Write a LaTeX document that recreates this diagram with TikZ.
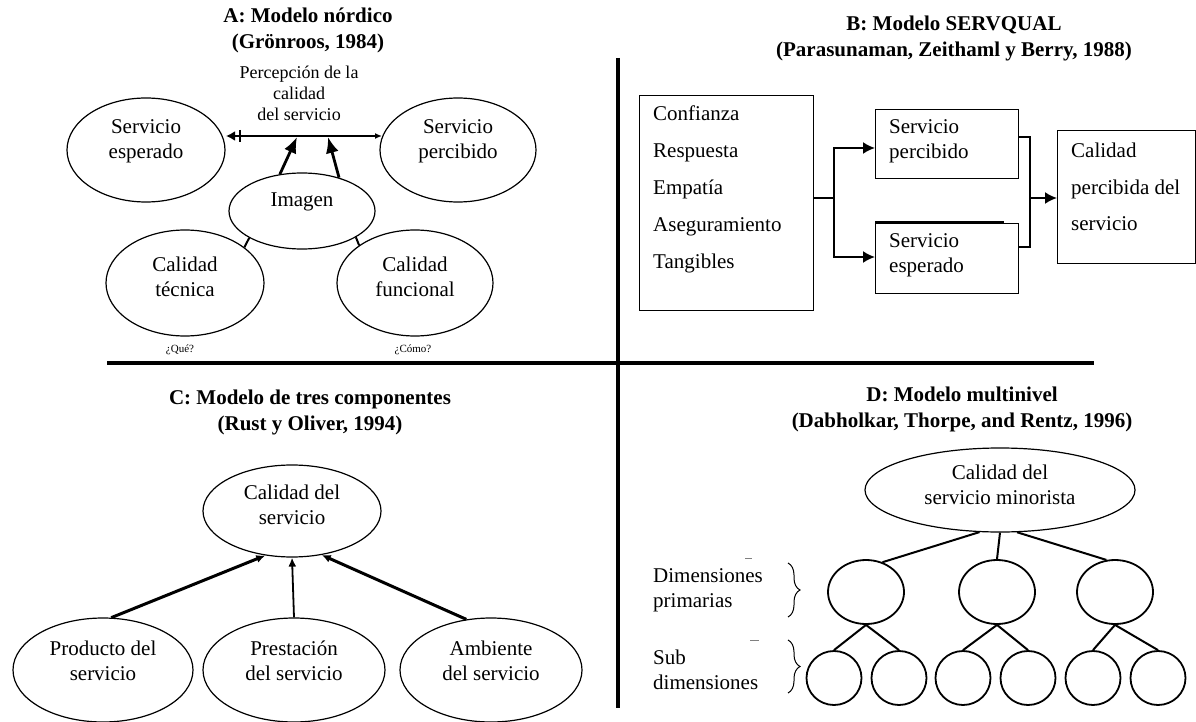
\documentclass[tikz,border=0pt]{standalone}
\usepackage{fontspec}
\setmainfont{Liberation Serif}
\usetikzlibrary{shapes.geometric,arrows.meta,decorations.pathreplacing}
\begin{document}
\begin{tikzpicture}[x=1pt,y=-1pt,
  ell/.style={draw, ellipse, line width=1.2pt, inner sep=0pt},
  dell/.style={draw, ellipse, line width=1.8pt, inner sep=0pt},
  txt/.style={font=\fontsize{21}{25}\selectfont, align=center, inner sep=0pt},
  ttl/.style={font=\bfseries\fontsize{21}{26}\selectfont, align=center, inner sep=0pt},
  boxn/.style={draw, line width=1.4pt, inner sep=0pt, anchor=north west},
  axis/.style={line width=4.5pt},
  bigarr/.style={line width=2.8pt, -{Latex[length=16pt,width=13pt]}},
  conn/.style={line width=2pt},
  arrB/.style={-{Latex[length=12pt,width=12pt]}},
  arrC/.style={line width=3pt, -{Latex[length=9pt,width=8pt]}},
  arrCv/.style={line width=1.8pt, -{Latex[length=9pt,width=8pt]}},
  dl/.style={line width=2pt}
]
\useasboundingbox (0,0) rectangle (1196,722);

% ---------- axes ----------
\coordinate (hL) at (107,363);
\coordinate (hR) at (1094,363);
\coordinate (vT) at (618,58);
\coordinate (vB) at (618,708);
\draw[axis] (hL) -- (hR);
\draw[axis] (vT) -- (vB);

% ---------- Panel A ----------
\node[ttl] (tA) at (308,30) {A: Modelo nórdico\\(Grönroos, 1984)};
\node[txt, font=\fontsize{18}{21}\selectfont] (per) at (299,93) {Percepción de la\\calidad\\del servicio};

\node[ell, minimum width=158pt, minimum height=104pt] (se) at (146,150) {};
\node[txt] (se-t) at (146,141) {Servicio\\esperado};
\node[ell, minimum width=156pt, minimum height=104pt] (sp) at (458,150) {};
\node[txt] (sp-t) at (458,141) {Servicio\\percibido};
\node[ell, minimum width=146pt, minimum height=76pt] (im) at (302,211) {};
\node[txt] (im-t) at (302,202) {Imagen};
\node[ell, minimum width=158pt, minimum height=106pt] (ct) at (185,283) {};
\node[txt] (ct-t) at (185,277) {Calidad\\técnica};
\node[ell, minimum width=156pt, minimum height=106pt] (cf) at (415,283) {};
\node[txt] (cf-t) at (415,277) {Calidad\\funcional};

\coordinate (pl) at (226,136);
\coordinate (pr) at (382,136);
\coordinate (bt) at (240,130);
\coordinate (bb) at (240,142);
\draw[line width=2.6pt, {Latex[length=9pt,width=10pt]}-{Latex[length=7pt,width=6pt]}] (pl) -- (pr);
\draw[line width=2pt] (bt) -- (bb);
\coordinate (a1) at (297,137);
\coordinate (a2) at (328,137);
\draw[bigarr] (im.121) -- (a1);
\draw[bigarr] (im.42) -- (a2);
\draw[line width=2pt] (im.207) -- (ct.31);
\draw[line width=2pt] (im.334) -- (cf.146);

\node[font=\fontsize{11}{13}\selectfont, inner sep=0pt] (q1) at (180,350) {¿Qué?};
\node[font=\fontsize{11}{13}\selectfont, inner sep=0pt] (q2) at (413,350) {¿Cómo?};

% ---------- Panel B ----------
\node[ttl] (tB) at (954,38) {B: Modelo SERVQUAL\\(Parasunaman, Zeithaml y Berry, 1988)};
\node[boxn, minimum width=174pt, minimum height=215pt] (b1) at (639,95) {};
\node[txt, align=left, anchor=west, font=\fontsize{21}{37}\selectfont] (b1t) at (653,189)
  {Confianza\\Respuesta\\Empatía\\Aseguramiento\\Tangibles};
\node[boxn, minimum width=143pt, minimum height=69pt] (bp) at (875,109) {};
\node[txt, align=left, anchor=west] (bpt) at (889,141) {Servicio\\percibido};
\node[boxn, minimum width=143pt, minimum height=70pt] (be) at (875,223) {};
\node[txt, align=left, anchor=west] (bet) at (889,255) {Servicio\\esperado};
\coordinate (st1) at (875,222);
\coordinate (st2) at (1004,222);
\draw[line width=2pt] (st1) -- (st2);
\node[boxn, minimum width=138pt, minimum height=133pt] (b3) at (1057,130) {};
\node[txt, align=left, anchor=west, font=\fontsize{21}{36.5}\selectfont] (b3t) at (1071,187)
  {Calidad\\percibida del\\servicio};

\coordinate (j1) at (834,198);
\draw[conn] (b1.east |- j1) -- (j1);
\draw[conn, arrB] (j1) |- (bp.west |- 0,148);
\draw[conn, arrB] (j1) |- (be.west |- 0,257);
\coordinate (j2) at (1030,198);
\draw[conn] (bp.east |- 0,137) -| (j2) |- (be.east |- 0,247);
\draw[conn, arrB] (j2) -- (b3.west |- j2);

% ---------- Panel C ----------
\node[ttl] (tC) at (310,412) {C: Modelo de tres componentes\\(Rust y Oliver, 1994)};
\node[ell, minimum width=178pt, minimum height=92pt] (cs) at (292,511) {};
\node[txt] (cs-t) at (292,505) {Calidad del\\servicio};
\node[ell, minimum width=180pt, minimum height=104pt] (pd) at (103,670) {};
\node[txt] (pd-t) at (103,661) {Producto del\\servicio};
\node[ell, minimum width=182pt, minimum height=104pt] (ps) at (294,670) {};
\node[txt] (ps-t) at (294,661) {Prestación\\del servicio};
\node[ell, minimum width=182pt, minimum height=104pt] (am) at (491,670) {};
\node[txt] (am-t) at (491,661) {Ambiente\\del servicio};
\draw[arrC] (pd.81) -- (cs.239);
\draw[arrCv] (ps.north) -- (cs.south);
\draw[arrC] (am.116) -- (cs.304);

% ---------- Panel D ----------
\node[ttl] (tD) at (962,409) {D: Modelo multinivel\\(Dabholkar, Thorpe, and Rentz, 1996)};
\node[ell, minimum width=270pt, minimum height=84pt] (top) at (1000,490) {};
\node[txt] (top-t) at (1000,485) {Calidad del\\servicio minorista};

\node[dell, minimum width=76pt, minimum height=64pt] (p1) at (866,592) {};
\node[dell, minimum width=76pt, minimum height=64pt] (p2) at (997,592) {};
\node[dell, minimum width=76pt, minimum height=64pt] (p3) at (1115,592) {};
\foreach \n/\x in {s1/834,s2/899,s3/963,s4/1028,s5/1093,s6/1158}
  \node[dell, minimum width=55pt, minimum height=54pt] (\n) at (\x,678) {};

\draw[dl] (top.244) -- (p1.61);
\draw[dl] (top.south) -- (p2.north);
\draw[dl] (top.292) -- (p3.105);
\draw[dl] (p1.south) -- (s1.north);
\draw[dl] (p1.south) -- (s2.north);
\draw[dl] (p2.south) -- (s3.north);
\draw[dl] (p2.south) -- (s4.north);
\draw[dl] (p3.south) -- (s5.north);
\draw[dl] (p3.south) -- (s6.north);

\node[txt, align=left, anchor=west] (dp) at (653,590) {Dimensiones\\primarias};
\node[txt, align=left, anchor=west] (sd) at (653,670) {Sub\\dimensiones};
\coordinate (br1a) at (788,563);
\coordinate (br1b) at (788,617);
\coordinate (br2a) at (788,640);
\coordinate (br2b) at (788,693);
\draw[line width=1pt, decorate, decoration={brace, amplitude=12pt}] (br1a) -- (br1b);
\draw[line width=1pt, decorate, decoration={brace, amplitude=12pt}] (br2a) -- (br2b);
\coordinate (d1a) at (745,558);
\coordinate (d1b) at (752,558);
\coordinate (d2a) at (750,640);
\coordinate (d2b) at (759,640);
\draw[gray, line width=1pt] (d1a) -- (d1b);
\draw[gray, line width=1pt] (d2a) -- (d2b);
\end{tikzpicture}
\end{document}
